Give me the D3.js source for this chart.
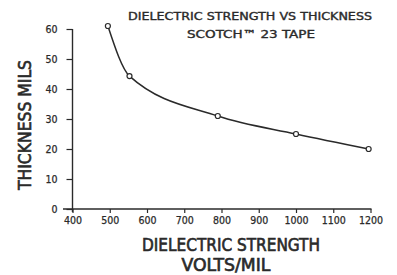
<!DOCTYPE html>
<html>
<head>
  <script src="https://cdn.jsdelivr.net/npm/d3@7"></script>
  <style>
    body { margin: 0; background: #fff; }
    svg { display: block; }
    text { font-family: "DejaVu Sans Condensed", "DejaVu Sans", sans-serif; fill: #2a2a2a; }
  </style>
</head>
<body>
  <div id="chart"></div>
  <script>
    // values
    const strength = [495, 553, 790, 1000, 1195];   // volts/mil
    const thickness = [61, 44.3, 31, 25, 20];       // mils
    const xTicks = [400, 500, 600, 700, 800, 900, 1000, 1100, 1200];
    const yTicks = [0, 10, 20, 30, 40, 50, 60];
    const titleLines = ["DIELECTRIC STRENGTH VS THICKNESS", "SCOTCH\u2122 23 TAPE"];

    const W = 397, H = 275;
    const ink = "#2a2a2a";

    const svg = d3.select("#chart").append("svg")
      .attr("width", W).attr("height", H);

    const x = d3.scaleLinear().domain([400, 1200]).range([72.5, 370.5]);
    const y = d3.scaleLinear().domain([0, 60]).range([209, 29]);

    // x axis, ticks hanging below the line
    const gx = svg.append("g")
      .attr("transform", `translate(0,${y(0)})`)
      .call(d3.axisBottom(x).tickValues(xTicks).tickFormat(d3.format("d"))
        .tickSize(4).tickSizeOuter(0).tickPadding(5));
    gx.select(".domain").remove();
    gx.selectAll(".tick line").attr("stroke", ink).attr("stroke-width", 1.2);
    gx.selectAll(".tick text").attr("font-size", 10.5).attr("dy", "0.6em")
      .attr("stroke", ink).attr("stroke-width", 0.25);
    gx.append("line")
      .attr("x1", 63).attr("x2", x(1200) + 1)
      .attr("stroke", ink).attr("stroke-width", 1.4);

    // y axis, ticks to the left
    const gy = svg.append("g")
      .attr("transform", `translate(${x(400)},0)`)
      .call(d3.axisLeft(y).tickValues(yTicks).tickSize(6).tickSizeOuter(0).tickPadding(9));
    gy.select(".domain").remove();
    gy.selectAll(".tick line").attr("stroke", ink).attr("stroke-width", 1.2);
    gy.selectAll(".tick text").attr("font-size", 10.5)
      .attr("stroke", ink).attr("stroke-width", 0.25);
    gy.append("line")
      .attr("y1", y(60)).attr("y2", y(0) + 3)
      .attr("stroke", ink).attr("stroke-width", 1.4);

    // curve through the measured points
    const pts = strength.map((s, i) => [s, thickness[i]]);
    svg.append("path")
      .datum(pts)
      .attr("fill", "none")
      .attr("stroke", ink)
      .attr("stroke-width", 1.5)
      .attr("d", d3.line().x(d => x(d[0])).y(d => y(d[1])).curve(d3.curveMonotoneX));

    svg.selectAll("circle.pt")
      .data(pts)
      .join("circle")
        .attr("class", "pt")
        .attr("cx", d => x(d[0]))
        .attr("cy", d => y(d[1]))
        .attr("r", 2.5)
        .attr("fill", "#fff")
        .attr("stroke", ink)
        .attr("stroke-width", 1.2);

    // titles
    svg.append("text")
      .attr("x", 250).attr("y", 20)
      .attr("text-anchor", "middle")
      .attr("font-size", 11)
      .attr("stroke", ink).attr("stroke-width", 0.35)
      .attr("textLength", 244).attr("lengthAdjust", "spacingAndGlyphs")
      .text(titleLines[0]);
    svg.append("text")
      .attr("x", 251).attr("y", 38)
      .attr("text-anchor", "middle")
      .attr("font-size", 11)
      .attr("stroke", ink).attr("stroke-width", 0.35)
      .attr("textLength", 128).attr("lengthAdjust", "spacingAndGlyphs")
      .text(titleLines[1]);

    const axisTitle = (sel) => sel
      .attr("text-anchor", "middle")
      .attr("font-size", 17)
      .attr("stroke", ink).attr("stroke-width", 0.6)
      .attr("lengthAdjust", "spacingAndGlyphs");

    svg.append("text").call(axisTitle)
      .attr("x", 231).attr("y", 251)
      .attr("textLength", 178)
      .text("DIELECTRIC STRENGTH");
    svg.append("text").call(axisTitle)
      .attr("x", 226).attr("y", 271)
      .attr("textLength", 89)
      .text("VOLTS/MIL");
    svg.append("text").call(axisTitle)
      .attr("transform", "translate(31,125) rotate(-90)")
      .attr("textLength", 130)
      .text("THICKNESS  MILS");
  </script>
</body>
</html>
